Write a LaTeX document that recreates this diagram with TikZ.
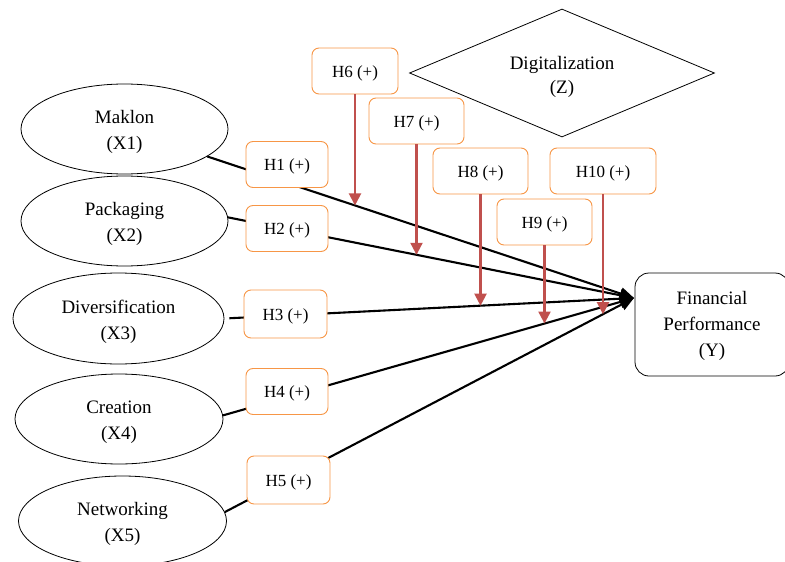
\documentclass[tikz,border=0pt]{standalone}
\usepackage{fontspec}
\setmainfont{Liberation Serif}
\usetikzlibrary{shapes.geometric,arrows.meta,intersections}
\definecolor{hypborder}{HTML}{F79646}
\definecolor{modred}{HTML}{C0504D}
\begin{document}
\begin{tikzpicture}[x=1pt,y=-1pt,
  construct/.style={ellipse,draw,line width=0.8pt,minimum width=208pt,minimum height=90pt,
    inner sep=0pt,align=center,text height=46pt,font=\fontsize{19}{26}\selectfont},
  hyp/.style={draw=hypborder,line width=0.9pt,rounded corners=7pt,fill=white,
    minimum height=46pt,inner sep=0pt,text height=16pt,font=\fontsize{17}{20}\selectfont},
  effect/.style={line width=2.1pt,-{Triangle[length=14pt,width=12pt]}},
  moder/.style={modred,line width=2.1pt,-{Triangle[length=12pt,width=12pt]}}
]
\useasboundingbox (0,0) rectangle (785,562);

% independent constructs
\node[construct,minimum width=207pt] (x1) at (124.5,129) {Maklon\\(X1)};
\node[construct,minimum width=207pt] (x2) at (124.5,221) {Packaging\\(X2)};
\node[construct,minimum width=211pt,minimum height=91pt] (x3) at (118.5,318.5) {Diversification\\(X3)};
\node[construct] (x4) at (119,419) {Creation\\(X4)};
\node[construct] (x5) at (122.5,521) {Networking\\(X5)};

% moderator
\node[diamond,aspect=2.38,draw,line width=0.8pt,minimum width=305pt,minimum height=128pt,
  inner sep=0pt,align=center,text height=45pt,font=\fontsize{19}{24}\selectfont] (z) at (562,73)
  {Digitalization\\(Z)};

% dependent construct
\node[draw,rounded corners=14pt,line width=0.8pt,minimum width=154pt,minimum height=103pt,
  inner sep=0pt,align=center,text height=69pt,font=\fontsize{19}{26}\selectfont] (y) at (712,324.5)
  {Financial\\Performance\\(Y)};
\coordinate (yin) at (634,298);

% direct effects
\draw[effect,name path=l1] (x1) -- (yin);
\draw[effect,name path=l2] (x2.2) -- (yin);
\draw[effect,name path=l3,shorten <=5pt] (x3.0) -- (yin);
\draw[effect,name path=l4] (x4.2) -- (yin);
\draw[effect,name path=l5] (x5.5) -- (yin);

% hypothesis labels
\node[hyp,minimum width=82pt] (h1) at (287,164.5) {H1 (+)};
\node[hyp,minimum width=82pt] (h2) at (287,228.5) {H2 (+)};
\node[hyp,minimum width=83pt,minimum height=48pt] (h3) at (285.5,314) {H3 (+)};
\node[hyp,minimum width=82pt] (h4) at (287,391.5) {H4 (+)};
\node[hyp,minimum width=83pt,minimum height=48pt] (h5) at (288.5,480) {H5 (+)};
\node[hyp,minimum width=86pt] (h6) at (355,71) {H6 (+)};
\node[hyp,minimum width=95pt] (h7) at (416.5,121) {H7 (+)};
\node[hyp,minimum width=95pt] (h8) at (480.5,171) {H8 (+)};
\node[hyp,minimum width=95pt] (h9) at (544.5,222) {H9 (+)};
\node[hyp,minimum width=106pt] (h10) at (603,171) {H10 (+)};

% moderating effects: vertical drops onto the direct-effect paths
\path[name path=v6] (h6.south) -- ++(0,400);
\path[name path=v7] (h7.south) -- ++(0,400);
\path[name path=v8] (h8.south) -- ++(0,400);
\path[name path=v9] (h9.south) -- ++(0,400);
\path[name path=v10] (h10.south) -- ++(0,400);
\path[name intersections={of={v6} and {l1},by={m6}}];
\path[name intersections={of={v7} and {l2},by={m7}}];
\path[name intersections={of={v8} and {l3},by={m8}}];
\path[name intersections={of={v9} and {l4},by={m9}}];
\path[name intersections={of={v10} and {l5},by={m10}}];
\draw[moder] (h6.south) -- (m6);
\draw[moder] (h7.south) -- (m7);
\draw[moder] (h8.south) -- (m8);
\draw[moder] (h9.south) -- (m9);
\draw[moder] (h10.south) -- (m10);
\end{tikzpicture}
\end{document}
